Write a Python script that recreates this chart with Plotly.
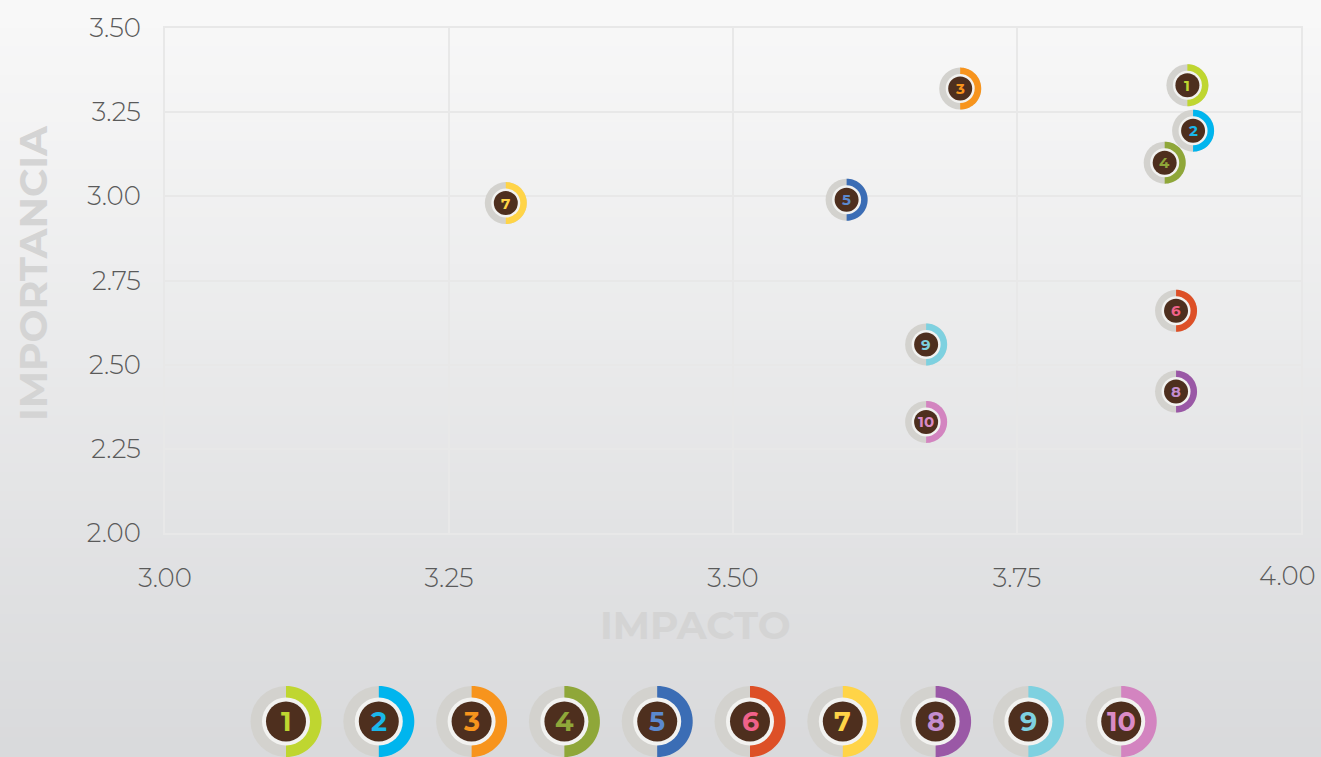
import numpy as np
import plotly.graph_objects as go

# ---- data ----
labels = ["1", "2", "3", "4", "5", "6", "7", "8", "9", "10"]
impacto = [3.90, 3.905, 3.70, 3.88, 3.60, 3.89, 3.30, 3.89, 3.67, 3.67]
importancia = [3.33, 3.195, 3.32, 3.10, 2.99, 2.66, 2.98, 2.42, 2.56, 2.33]
ring_colors = ["#bfd630", "#00b5ee", "#f7941d", "#8fa739", "#3b6db5",
               "#dd5027", "#ffd447", "#9a58a6", "#7ed1e0", "#d384c0"]
num_colors = ["#bfd630", "#1ab7ea", "#f7941d", "#8fa739", "#5b89cf",
              "#f0628a", "#ffd447", "#c48dcf", "#7ed1e0", "#da8bc6"]
x_ticks = [3.00, 3.25, 3.50, 3.75, 4.00]
x_ticktext = ["3.00", "3.25", "3.50", "3.75", "4.00"]
y_ticks = [2.00, 2.25, 2.50, 2.75, 3.00, 3.25, 3.50]
y_ticktext = ["2.00", "2.25", "2.50", "2.75", "3.00", "3.25", "3.50"]

W, H = 1321, 757
ML, MR, MT, MB = 165, 20, 28, 224
PW, PH = W - ML - MR, H - MT - MB

GRAY = "#d3d2ce"
WHITE = "#f2f2f0"
DARK = "#4e2f1e"
FONT = "Montserrat, Lato, Open Sans, sans-serif"
GRID = "#e8e8e8"
TICKFONT = dict(family=FONT, size=26, color="#5a5a5a", weight=300)

shapes = []
annotations = []

# background gradient (paper coords)
n_bands = 80
top_rgb = np.array([249, 249, 249])
bot_rgb = np.array([217, 218, 220])
y_top = (H - MB) / PH
y_bot = -MB / PH
x_left = -ML / PW
x_right = (W - ML) / PW
for i in range(n_bands):
    t = (i + 0.5) / n_bands
    c = top_rgb + (bot_rgb - top_rgb) * t
    ya = y_top - (y_top - y_bot) * i / n_bands
    yb = y_top - (y_top - y_bot) * (i + 1) / n_bands
    shapes.append(dict(type="rect", xref="paper", yref="paper",
                       x0=x_left - 0.01, x1=x_right + 0.01, y0=yb - 0.002, y1=ya + 0.002,
                       fillcolor="rgb(%d,%d,%d)" % tuple(c.astype(int)),
                       line=dict(width=0), layer="below"))


def half_path(r, n=40):
    ang = np.linspace(-np.pi / 2, np.pi / 2, n)
    pts = ["M 0,%.2f" % (-r)]
    for a in ang:
        pts.append("L %.2f,%.2f" % (r * np.cos(a), r * np.sin(a)))
    pts.append("Z")
    return " ".join(pts)


def badge(xa, ya, xref, yref, r_out, r_white, r_dark, ring, numc, text, fsize):
    common = dict(xref=xref, yref=yref, xsizemode="pixel", ysizemode="pixel",
                  xanchor=xa, yanchor=ya, layer="above", line=dict(width=0))
    shapes.append(dict(type="circle", x0=-r_out, x1=r_out, y0=-r_out, y1=r_out,
                       fillcolor=GRAY, **common))
    shapes.append(dict(type="path", path=half_path(r_out), fillcolor=ring, **common))
    shapes.append(dict(type="circle", x0=-r_white, x1=r_white, y0=-r_white, y1=r_white,
                       fillcolor=WHITE, **common))
    shapes.append(dict(type="circle", x0=-r_dark, x1=r_dark, y0=-r_dark, y1=r_dark,
                       fillcolor=DARK, **common))
    annotations.append(dict(x=xa, y=ya, xref=xref, yref=yref, text="<b>%s</b>" % text,
                            showarrow=False, xanchor="center", yanchor="middle",
                            font=dict(family=FONT, size=fsize, color=numc)))


# chart badges
for lab, xv, yv, rc, nc in zip(labels, impacto, importancia, ring_colors, num_colors):
    badge(xv, yv, "x", "y", 21, 14.5, 12, rc, nc, lab, 15)

# legend badges (paper coords)
for i, (lab, rc, nc) in enumerate(zip(labels, ring_colors, num_colors)):
    cx = (286 + 92.8 * i - ML) / PW
    cy = (H - MB - 721.5) / PH
    badge(cx, cy, "paper", "paper", 35.5, 24, 20, rc, nc, lab, 27)

# last x tick label, kept inside the page (as in the reference)
annotations.append(dict(x=x_ticks[-1], xref="x", y=(H - MB - 576) / PH, yref="paper",
                        text=x_ticktext[-1], showarrow=False, xanchor="right",
                        yanchor="middle", xshift=17, font=TICKFONT))

# axis titles
annotations.append(dict(x=(695 - ML) / PW, y=(H - MB - 625) / PH, xref="paper", yref="paper",
                        text="<b>IMPACTO</b>", showarrow=False,
                        xanchor="center", yanchor="middle",
                        font=dict(family=FONT, size=39, color="#d4d4d4")))
annotations.append(dict(x=(33 - ML) / PW, y=(H - MB - 273) / PH, xref="paper", yref="paper",
                        text="<b>IMPORTANCIA</b>", showarrow=False, textangle=-90,
                        xanchor="center", yanchor="middle",
                        font=dict(family=FONT, size=39, color="#d4d4d4")))

fig = go.Figure()
fig.add_trace(go.Scatter(x=impacto, y=importancia, mode="markers",
                         marker=dict(size=42, opacity=0), text=labels,
                         hovertemplate="%{text}: %{x}, %{y}<extra></extra>",
                         showlegend=False))

fig.update_layout(
    width=W, height=H,
    margin=dict(l=ML, r=MR, t=MT, b=MB, pad=0, autoexpand=False),
    paper_bgcolor="#e8e8e9",
    plot_bgcolor="rgba(0,0,0,0)",
    shapes=shapes,
    annotations=annotations,
    showlegend=False,
    xaxis=dict(range=[3.0, 4.0], tickvals=x_ticks[:-1], ticktext=x_ticktext[:-1],
               showgrid=True, gridcolor=GRID, gridwidth=2, zeroline=False,
               showline=True, mirror=True, linecolor=GRID, linewidth=2,
               ticks="", ticklabelstandoff=21, automargin=False,
               tickfont=TICKFONT),
    yaxis=dict(range=[2.0, 3.5], tickvals=y_ticks, ticktext=y_ticktext,
               showgrid=True, gridcolor=GRID, gridwidth=2, zeroline=False,
               showline=True, mirror=True, linecolor=GRID, linewidth=2,
               ticks="", ticklabelstandoff=17, automargin=False,
               tickfont=TICKFONT),
)

fig.write_html("out.html", config={"displayModeBar": False},
               post_script="document.body.style.margin='0';document.body.style.overflow='hidden';")
